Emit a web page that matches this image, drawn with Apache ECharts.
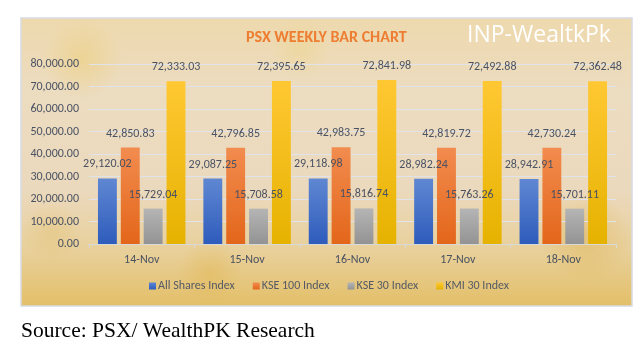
<!DOCTYPE html>
<html>
<head>
<meta charset="utf-8">
<script src="https://cdn.jsdelivr.net/npm/echarts@6/dist/echarts.min.js"></script>
<style>
html,body{margin:0;padding:0;background:#fff;}
#c{width:642px;height:358px;}
</style>
</head>
<body>
<div id="c"></div>
<script>
const categories = ['14-Nov', '15-Nov', '16-Nov', '17-Nov', '18-Nov'];
const allShares = [29120.02, 29087.25, 29118.98, 28982.24, 28942.91];
const kse100 = [42850.83, 42796.85, 42983.75, 42819.72, 42730.24];
const kse30 = [15729.04, 15708.58, 15816.74, 15763.26, 15701.11];
const kmi30 = [72333.03, 72395.65, 72841.98, 72492.88, 72362.48];
const seriesNames = ['All Shares Index', 'KSE 100 Index', 'KSE 30 Index', 'KMI 30 Index'];

const FONT = 'Carlito, Lato, sans-serif';
const TXT = '#4a5263';

function grad(top, bottom) {
  return new echarts.graphic.LinearGradient(0, 0, 0, 1, [
    {offset: 0, color: top}, {offset: 1, color: bottom}
  ]);
}
const fills = [
  grad('#5f87d2', '#2e5cbc'),
  grad('#f28c4f', '#e3661a'),
  grad('#b5b5b5', '#939393'),
  grad('#ffc833', '#e6b200')
];
const legendColors = ['#3a67c4', '#ec7428', '#a5a5a5', '#fbbf14'];
const fmt = v => v.toLocaleString('en-US', {minimumFractionDigits: 2, maximumFractionDigits: 2});

function blob(x, y, w, h, rgb, a) {
  return {
    type: 'rect', z: -99, silent: true,
    shape: {x: x, y: y, width: w, height: h},
    style: {fill: new echarts.graphic.RadialGradient(0.5, 0.5, 0.5, [
      {offset: 0, color: 'rgba(' + rgb + ',' + a + ')'},
      {offset: 1, color: 'rgba(' + rgb + ',0)'}])}
  };
}

const chart = echarts.init(document.getElementById('c'), null, {renderer: 'canvas'});
const dataSets = [allShares, kse100, kse30, kmi30];

chart.setOption({
  backgroundColor: '#ffffff',
  animation: false,
  color: legendColors,
  graphic: [
    {
      type: 'rect', z: -100, silent: true,
      shape: {x: 21, y: 18, width: 611, height: 288},
      style: {
        fill: new echarts.graphic.LinearGradient(0, 0, 0, 1, [
          {offset: 0, color: '#eed9ad'},
          {offset: 0.25, color: '#ecdcc0'},
          {offset: 0.6, color: '#ebd9bd'},
          {offset: 0.82, color: '#e8cf98'},
          {offset: 1, color: '#e3bf68'}
        ])
      }
    },
    blob(22, 19, 120, 80, '236,205,120', 0.55),
    blob(200, 19, 200, 60, '238,210,130', 0.4),
    blob(540, 170, 91, 135, '224,180,80', 0.5),
    blob(80, 240, 260, 65, '226,182,80', 0.45),
    blob(22, 160, 60, 145, '226,190,100', 0.35),
    {
      type: 'rect', z: -98, silent: true,
      shape: {x: 21, y: 18, width: 611, height: 288},
      style: {fill: 'none', stroke: '#d6dbe3', lineWidth: 1.5}
    },
    {
      type: 'text', z: 10, silent: true,
      style: {x: 467, y: 35, text: 'INP-WealtkPk', fill: '#ffffff',
        font: '23px "Open Sans", sans-serif', textVerticalAlign: 'middle'}
    },
    {
      type: 'text', z: 10, silent: true,
      style: {x: 21, y: 331, text: 'Source: PSX/ WealthPK Research', fill: '#000000',
        font: '21.5px "Liberation Serif", "Times New Roman", serif', textVerticalAlign: 'middle'}
    }
  ],
  title: {
    text: 'PSX WEEKLY BAR CHART',
    left: 246, top: 29, padding: 0,
    textStyle: {color: '#ed7d31', fontSize: 16, fontWeight: 'bold', fontFamily: FONT, lineHeight: 17}
  },
  legend: {
    data: seriesNames,
    left: 149, top: 280, padding: 0,
    itemWidth: 7, itemHeight: 7, itemGap: 18,
    icon: 'rect',
    textStyle: {color: '#555a66', fontSize: 12, fontFamily: FONT, padding: [0, 0, 0, -3]}
  },
  grid: {left: 89, right: 26, top: 64, bottom: 114, containLabel: false},
  xAxis: {
    type: 'category',
    data: categories,
    axisLine: {lineStyle: {color: '#d9d9d9', width: 1}},
    axisTick: {show: true, length: 4, lineStyle: {color: '#d9d9d9'}},
    axisLabel: {color: TXT, fontSize: 12, fontFamily: FONT, margin: 10}
  },
  yAxis: {
    type: 'value',
    min: 0, max: 80000, interval: 10000,
    axisLine: {show: false},
    axisTick: {show: false},
    axisLabel: {color: TXT, fontSize: 12, fontFamily: FONT, margin: 10, formatter: v => fmt(v)},
    splitLine: {lineStyle: {color: '#e0e3ea', width: 1}}
  },
  series: seriesNames.map((name, i) => ({
    name: name,
    type: 'bar',
    data: dataSets[i],
    barGap: '21%',
    barCategoryGap: '17%',
    itemStyle: {color: fills[i]},
    label: {
      show: true, position: 'top', distance: 8,
      color: TXT, fontSize: 12, fontFamily: FONT,
      formatter: p => fmt(p.value)
    }
  }))
});
</script>
</body>
</html>
